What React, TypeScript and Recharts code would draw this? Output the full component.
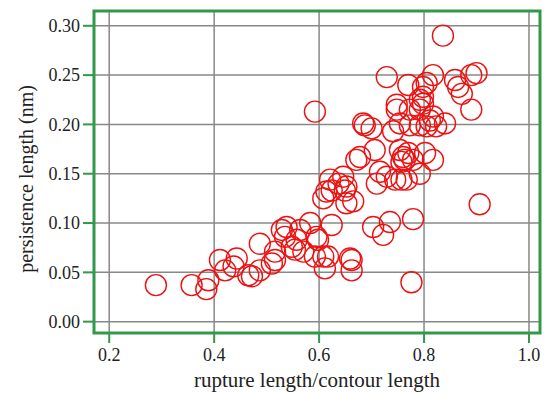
import { ScatterChart, Scatter, XAxis, YAxis, CartesianGrid, ReferenceArea, Label } from 'recharts';

// rupture length / contour length
const ruptureRatio = [
  0.289, 0.357, 0.385, 0.389, 0.411, 0.421, 0.443, 0.437, 0.465, 0.472,
  0.487, 0.487, 0.51, 0.516, 0.516, 0.529, 0.538, 0.535, 0.548, 0.554,
  0.564, 0.57, 0.583, 0.595, 0.598, 0.592, 0.611, 0.617, 0.624, 0.659,
  0.662, 0.662, 0.608, 0.614, 0.621, 0.637, 0.646, 0.649, 0.665, 0.652,
  0.671, 0.678, 0.706, 0.684, 0.687, 0.7, 0.592, 0.71, 0.716, 0.729,
  0.745, 0.757, 0.767, 0.757, 0.76, 0.763, 0.77, 0.754, 0.792, 0.802,
  0.817, 0.741, 0.748, 0.748, 0.729, 0.77, 0.773, 0.798, 0.798, 0.805,
  0.817, 0.792, 0.811, 0.817, 0.805, 0.84, 0.836, 0.859, 0.865, 0.872,
  0.89, 0.9, 0.89, 0.906, 0.776, 0.779, 0.735, 0.703, 0.722, 0.652,
  0.779, 0.823, 0.792, 0.798, 0.773, 0.754, 0.792, 0.624, 0.557, 0.608,
];

// persistence length (nm)
const persistence = [
  0.037, 0.037, 0.033, 0.042, 0.0625, 0.052, 0.064, 0.056, 0.047, 0.046,
  0.079, 0.052, 0.059, 0.0625, 0.071, 0.093, 0.096, 0.086, 0.076, 0.073,
  0.093, 0.071, 0.1, 0.086, 0.083, 0.066, 0.054, 0.066, 0.098, 0.064,
  0.052, 0.0625, 0.125, 0.132, 0.144, 0.14, 0.147, 0.133, 0.122, 0.137,
  0.164, 0.167, 0.174, 0.201, 0.199, 0.196, 0.213, 0.14, 0.152, 0.147,
  0.144, 0.144, 0.144, 0.162, 0.167, 0.164, 0.171, 0.174, 0.15, 0.171,
  0.164, 0.193, 0.215, 0.22, 0.248, 0.24, 0.199, 0.228, 0.238, 0.242,
  0.25, 0.215, 0.204, 0.208, 0.198, 0.201, 0.29, 0.245, 0.238, 0.231,
  0.25, 0.252, 0.215, 0.119, 0.04, 0.104, 0.101, 0.096, 0.088, 0.12,
  0.164, 0.198, 0.225, 0.221, 0.215, 0.201, 0.199, 0.133, 0.083, 0.066,
];

const xTicks = [0.2, 0.4, 0.6, 0.8, 1.0];
const yTicks = [0, 0.05, 0.1, 0.15, 0.2, 0.25, 0.3];
const xDomain = [0.171, 1.021];
const yDomain = [-0.0115, 0.315];

const green = '#33994a';
const font = '"Liberation Serif", "Times New Roman", serif';

const points = ruptureRatio.map((x, i) => ({ x, y: persistence[i] }));

const Ring = (props: any) => (
  <circle cx={props.cx} cy={props.cy} r={10.5} fill="none" stroke="#ee1111" strokeWidth={1.4} />
);

const XTick = (p: any) => (
  <text x={p.x} y={p.y} dy="0.71em" textAnchor="middle" style={{ fontFamily: font, fontSize: 18, fill: '#222' }}>
    {Number(p.payload.value).toFixed(1)}
  </text>
);

const YTick = (p: any) => (
  <text x={p.x} y={p.y} dy="0.355em" textAnchor="end" style={{ fontFamily: font, fontSize: 18, fill: '#222' }}>
    {Number(p.payload.value).toFixed(2)}
  </text>
);

export default function App() {
  return (
    <div style={{ position: 'absolute', left: 0, top: 0, background: '#fff' }}>
      <ScatterChart width={544} height={393} margin={{ top: 11, right: 4, bottom: 0, left: 0 }}>
        <CartesianGrid stroke="#888" strokeWidth={1.5} />
        <XAxis
          type="number"
          dataKey="x"
          domain={xDomain}
          ticks={xTicks}
          allowDataOverflow
          axisLine={false}
          tickLine={{ stroke: green, strokeWidth: 2 }}
          tickSize={10}
          tickMargin={5}
          tick={XTick}
          height={60}
        >
          <Label
            value="rupture length/contour length"
            position="insideBottom"
            offset={6}
            style={{ fill: '#222', fontSize: 21, fontFamily: font }}
          />
        </XAxis>
        <YAxis
          type="number"
          dataKey="y"
          domain={yDomain}
          ticks={yTicks}
          allowDataOverflow
          axisLine={false}
          tickLine={{ stroke: green, strokeWidth: 2 }}
          tickSize={11}
          tickMargin={3}
          tick={YTick}
          width={94}
        >
          <Label
            value="persistence length (nm)"
            angle={-90}
            position="insideLeft"
            offset={26}
            dy={7}
            style={{ textAnchor: 'middle', fill: '#222', fontSize: 20, fontFamily: font }}
          />
        </YAxis>
        <ReferenceArea
          x1={xDomain[0]}
          x2={xDomain[1]}
          y1={yDomain[0]}
          y2={yDomain[1]}
          fill="none"
          fillOpacity={0}
          stroke={green}
          strokeWidth={3}
        />
        <Scatter data={points} shape={Ring} isAnimationActive={false} />
      </ScatterChart>
    </div>
  );
}
